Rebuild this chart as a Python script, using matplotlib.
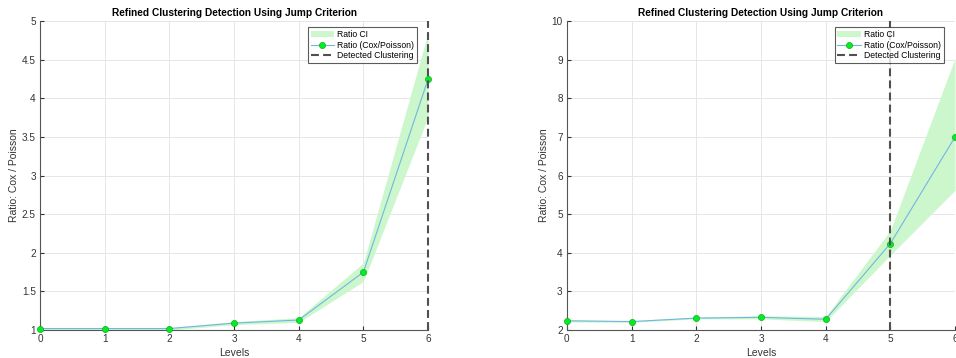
import matplotlib
matplotlib.use("Agg")
import matplotlib.pyplot as plt
import numpy as np

plt.rcParams['font.family'] = ['Liberation Sans', 'DejaVu Sans']

levels = [0, 1, 2, 3, 4, 5, 6]

ratio_a = [1.02, 1.02, 1.02, 1.09, 1.13, 1.75, 4.25]
ci_low_a = [1.00, 1.00, 1.00, 1.07, 1.10, 1.63, 3.76]
ci_high_a = [1.03, 1.03, 1.03, 1.11, 1.16, 1.87, 4.85]
detected_a = 6
ylim_a = (1, 5)
yticks_a = [1, 1.5, 2, 2.5, 3, 3.5, 4, 4.5, 5]
yticklabels_a = ['1', '1.5', '2', '2.5', '3', '3.5', '4', '4.5', '5']

ratio_b = [2.24, 2.22, 2.31, 2.33, 2.28, 4.24, 7.0]
ci_low_b = [2.21, 2.20, 2.29, 2.29, 2.22, 3.94, 5.62]
ci_high_b = [2.27, 2.24, 2.34, 2.37, 2.35, 4.58, 9.04]
detected_b = 5
ylim_b = (2, 10)
yticks_b = [2, 3, 4, 5, 6, 7, 8, 9, 10]
yticklabels_b = ['2', '3', '4', '5', '6', '7', '8', '9', '10']

title = 'Refined Clustering Detection Using Jump Criterion'
xlabel = 'Levels'
ylabel = 'Ratio: Cox / Poisson'

fig = plt.figure(figsize=(9.56, 3.58), dpi=100)

def panel(rect, ratio, lo, hi, det, ylim, yt, ytl):
    ax = fig.add_axes(rect)
    ax.fill_between(levels, lo, hi, color='#ccf7cc', linewidth=0, label='Ratio CI', zorder=2)
    ax.plot(levels, ratio, '-o', color='#72b6e0', linewidth=0.8, markersize=4.4,
            markerfacecolor='#00ee22', markeredgecolor='#11aa22', markeredgewidth=0.5,
            label='Ratio (Cox/Poisson)', zorder=3, clip_on=False)
    ax.axvline(det, color='#505050', linestyle=(0, (3.8, 2.0)), linewidth=1.5,
               label='Detected Clustering', zorder=4, clip_on=False)
    ax.set_xlim(0, 6)
    ax.set_ylim(*ylim)
    ax.set_xticks(levels)
    ax.set_yticks(yt)
    ax.set_yticklabels(ytl)
    ax.grid(True, color='#e6e6e6', linewidth=0.7, zorder=0)
    ax.set_axisbelow(True)
    for s in ['top', 'right']:
        ax.spines[s].set_visible(False)
    for s in ['left', 'bottom']:
        ax.spines[s].set_color('#555555')
        ax.spines[s].set_linewidth(0.8)
    ax.tick_params(direction='in', length=3, labelsize=7.2, colors='#333333', pad=3)
    ax.set_title(title, fontsize=7.3, fontweight='bold', pad=3.5)
    ax.set_xlabel(xlabel, fontsize=7.5, color='#333333', labelpad=2.5)
    ax.set_ylabel(ylabel, fontsize=7.5, color='#333333', labelpad=2)
    leg = ax.legend(loc='upper right', fontsize=6.2, frameon=True, fancybox=False,
                    borderpad=0.3, labelspacing=0.2, handlelength=2.7,
                    handletextpad=0.4, bbox_to_anchor=(0.982, 0.994))
    leg.get_frame().set_edgecolor('#333333')
    leg.get_frame().set_linewidth(0.8)
    return ax

panel([0.0418, 0.078, 0.406, 0.863], ratio_a, ci_low_a, ci_high_a, detected_a, ylim_a, yticks_a, yticklabels_a)
panel([0.593, 0.078, 0.406, 0.863], ratio_b, ci_low_b, ci_high_b, detected_b, ylim_b, yticks_b, yticklabels_b)

fig.savefig('out.png', dpi=100)
